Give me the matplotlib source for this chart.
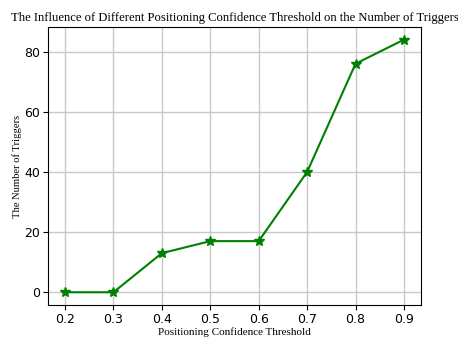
import matplotlib
matplotlib.use("Agg")
import matplotlib.pyplot as plt

thresholds = [0.2, 0.3, 0.4, 0.5, 0.6, 0.7, 0.8, 0.9]
triggers = [0, 0, 13, 17, 17, 40, 76, 84]
title = "The Influence of Different Positioning Confidence Threshold on the Number of Triggers"
xlabel = "Positioning Confidence Threshold"
ylabel = "The Number of Triggers"

fig = plt.figure(figsize=(4.58, 3.38), dpi=100)
ax = fig.add_axes([0.105, 0.098, 0.814, 0.822])
ax.plot(thresholds, triggers, color="green", marker="*", markersize=7, linewidth=1.5)
ax.grid(True, color="#c8c8c8", linewidth=1)
ax.set_axisbelow(True)
ax.set_yticks([0, 20, 40, 60, 80])
ax.set_xticks(thresholds)
ax.tick_params(labelsize=9, pad=2.5)
serif = ["Liberation Serif", "DejaVu Serif"]
ax.set_title(title, family=serif, fontsize=9.1, pad=4)
ax.set_xlabel(xlabel, family=serif, fontsize=8, labelpad=1)
ax.set_ylabel(ylabel, family=serif, fontsize=7.6, labelpad=1.5)
fig.savefig("out.png", dpi=100)
